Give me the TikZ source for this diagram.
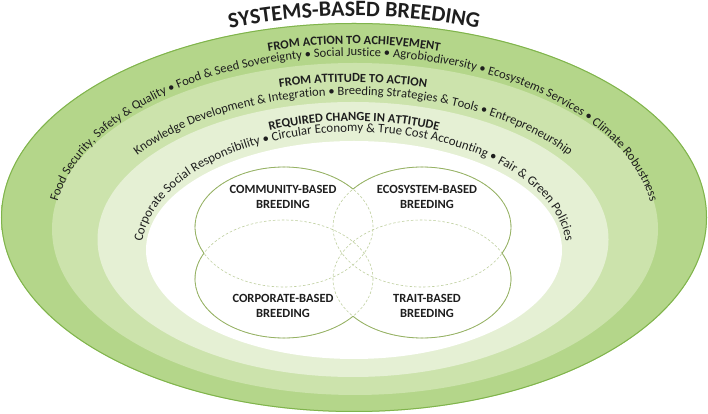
\documentclass[tikz,border=0pt]{standalone}
\usepackage{fontspec}
\setmainfont{Carlito}
\usetikzlibrary{decorations.text}

\definecolor{ringAlight}{RGB}{180,214,138}
\definecolor{ringA}{RGB}{166,205,118}
\definecolor{ringAedge}{RGB}{128,180,76}
\definecolor{ringB}{RGB}{204,227,172}
\definecolor{ringC}{RGB}{229,240,212}
\definecolor{venn}{RGB}{150,178,100}
\definecolor{vennlight}{RGB}{192,208,160}
\definecolor{ink}{RGB}{30,30,30}

\pgfdeclareradialshading{outerband}{\pgfpoint{0bp}{0bp}}{color(0bp)=(ringAlight); color(42bp)=(ringAlight); color(48bp)=(ringA); color(50bp)=(ringAedge); color(100bp)=(ringAedge)}

\newcommand{\titlefont}{\fontsize{22}{26}\selectfont\bfseries}
\newcommand{\headfont}{\fontsize{12.5}{15}\selectfont\bfseries}
\newcommand{\ringfont}{\fontsize{12.6}{15}\selectfont}
\newcommand{\innerfont}{\fontsize{12.9}{15}\selectfont}

\tikzset{
  arctext/.style={decorate, decoration={text along path, text align=center,
      text color=ink, text={#1}}},
  vennlabel/.style={align=center, text=ink, font=\fontsize{12.5}{15}\selectfont\bfseries},
  vennline/.style={venn, line width=0.8pt},
  venndash/.style={vennlight, line width=0.6pt, dash pattern=on 2.5pt off 2pt},
}

\begin{document}
\begin{tikzpicture}[x=1pt,y=1pt]
\useasboundingbox (0,0) rectangle (708,414);

% rings
\shade[shading=outerband] (354,196.5) ellipse [x radius=353, y radius=194.5];
\draw[ringAedge, line width=1pt] (354,196.5) ellipse [x radius=352.5, y radius=194];
\fill[ringB] (355,185) ellipse [x radius=303, y radius=166];
\fill[ringC] (353,174.5) ellipse [x radius=255.5, y radius=137.5];
\fill[white] (354,164) ellipse [x radius=208, y radius=109];

% title and ring texts
\path[arctext={|\titlefont|SYSTEMS-BASED BREEDING}]
  (354,196.5) ++(150:362 and 201.5) arc[start angle=150, end angle=30, x radius=362, y radius=201.5];

\path[arctext={|\headfont|FROM ACTION TO ACHIEVEMENT}]
  (354,185) ++(150:312 and 185) arc[start angle=150, end angle=30, x radius=312, y radius=185];
\path[arctext={|\ringfont|Food Security, Safety {\&} Quality • Food {\&} Seed Sovereignty • Social Justice • Agrobiodiversity • Ecosystems Services • Climate Robustness}]
  (354,185) ++(195:300 and 173) arc[start angle=195, end angle=-15, x radius=300, y radius=173];

\path[arctext={|\headfont|FROM ATTITUDE TO ACTION}]
  (353,174.5) ++(150:278 and 157.5) arc[start angle=150, end angle=30, x radius=278, y radius=157.5];
\path[arctext={|\ringfont|Knowledge Development {\&} Integration • Breeding Strategies {\&} Tools • Entrepreneurship}]
  (353,174.5) ++(195:265 and 144.5) arc[start angle=195, end angle=-15, x radius=265, y radius=144.5];

\path[arctext={|\headfont|REQUIRED CHANGE IN ATTITUDE}]
  (354,164) ++(150:225 and 129) arc[start angle=150, end angle=30, x radius=225, y radius=129];
\path[arctext={|\innerfont|Corporate Social Responsibility • Circular Economy {\&} True Cost Accounting • Fair {\&} Green Policies}]
  (354,164) ++(200:212 and 118) arc[start angle=200, end angle=-20, x radius=212, y radius=118];

% venn of the four approaches
\draw[venndash] (284,187) ellipse [x radius=89, y radius=60]
                (422,187) ellipse [x radius=89, y radius=60]
                (284,135) ellipse [x radius=89, y radius=59]
                (422,135) ellipse [x radius=89, y radius=59];
\draw[vennline] (284,187) ++(39.2:89 and 60) arc[start angle=39.2, end angle=205.7, x radius=89, y radius=60];
\draw[vennline] (422,187) ++(140.8:89 and 60) arc[start angle=140.8, end angle=-25.7, x radius=89, y radius=60];
\draw[vennline] (284,135) ++(153.9:89 and 59) arc[start angle=153.9, end angle=320.8, x radius=89, y radius=59];
\draw[vennline] (422,135) ++(26.1:89 and 59) arc[start angle=26.1, end angle=-140.8, x radius=89, y radius=59];

\node[vennlabel] (community) at (283,217.5) {COMMUNITY-BASED\\BREEDING};
\node[vennlabel] (ecosystem) at (427,217.5) {ECOSYSTEM-BASED\\BREEDING};
\node[vennlabel] (corporate) at (283,108.5) {CORPORATE-BASED\\BREEDING};
\node[vennlabel] (trait) at (427,108.5) {TRAIT-BASED\\BREEDING};
\end{tikzpicture}
\end{document}
